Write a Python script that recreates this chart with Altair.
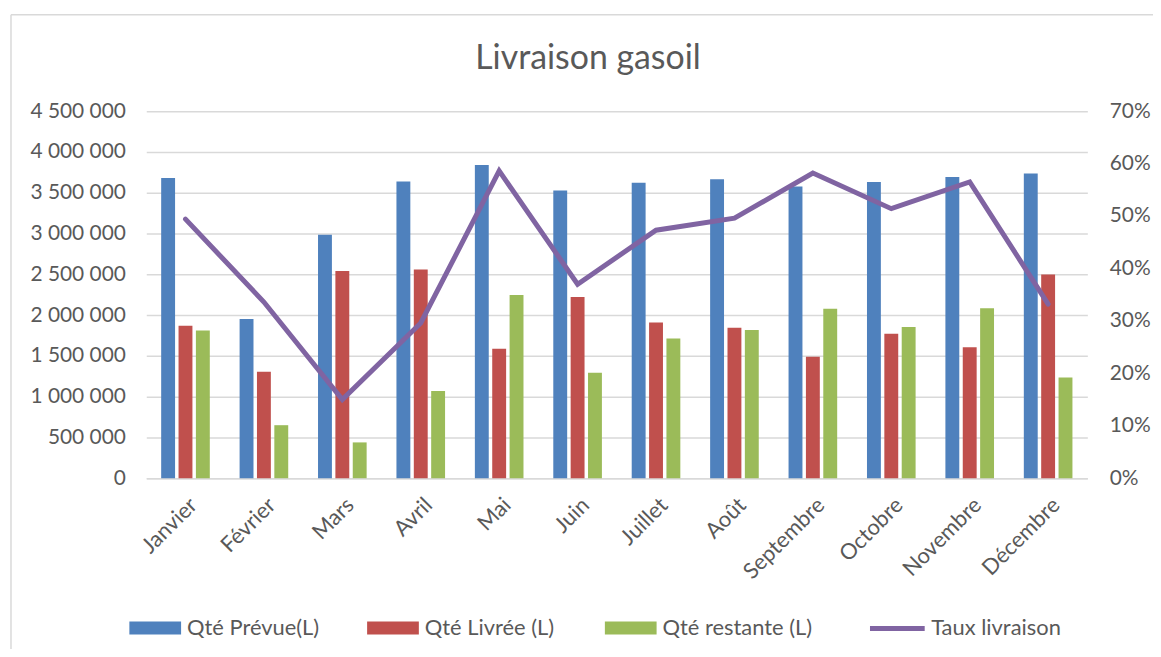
import altair as alt
import pandas as pd

mois = ["Janvier", "Février", "Mars", "Avril", "Mai", "Juin", "Juillet",
        "Août", "Septembre", "Octobre", "Novembre", "Décembre"]
series = ["Qté Prévue(L)", "Qté Livrée (L)", "Qté restante (L)"]
prevue = [3680000, 1953000, 2986000, 3636000, 3839000, 3526000, 3623000,
          3664000, 3575000, 3632000, 3693000, 3737000]
livree = [1868000, 1304000, 2539000, 2560000, 1588000, 2222000, 1909000,
          1844000, 1490000, 1771000, 1604000, 2498000]
restante = [1810000, 650000, 439000, 1068000, 2246000, 1292000, 1714000,
            1816000, 2076000, 1853000, 2084000, 1235000]
taux = [0.494, 0.336, 0.150, 0.296, 0.586, 0.370, 0.473, 0.496, 0.582,
        0.514, 0.565, 0.332]
couleurs = ["#4F81BD", "#C0504D", "#9BBB59"]
couleur_taux = "#8064A2"
titre = "Livraison gasoil"

rows = []
for s, vals in zip(series, [prevue, livree, restante]):
    for m, v in zip(mois, vals):
        rows.append({"mois": m, "serie": s, "valeur": v})
df_bars = pd.DataFrame(rows)
df_taux = pd.DataFrame({"mois": mois, "taux": taux, "serie": ["Taux livraison"] * len(mois)})

FONT = "Lato"
GREY = "#595959"
GRID = "#D9D9D9"

xenc = alt.X("mois:N", sort=mois,
             scale=alt.Scale(paddingInner=0.38, paddingOuter=0.19),
             axis=alt.Axis(title=None, labelAngle=-45, labelFontSize=22, labelFont=FONT,
                           labelColor=GREY, ticks=False, domain=True, domainColor=GRID,
                           domainWidth=1.5, labelPadding=16, labelOffset=1, grid=False))

bars = alt.Chart(df_bars).mark_bar().encode(
    x=xenc,
    xOffset=alt.XOffset("serie:N", sort=series, scale=alt.Scale(paddingInner=0.2)),
    y=alt.Y("valeur:Q", scale=alt.Scale(domain=[0, 4500000]),
            axis=alt.Axis(title=None, values=list(range(0, 4500001, 500000)),
                          labelExpr="replace(replace(format(datum.value, ','), ',', ' '), ',', ' ')",
                          labelFontSize=21, labelFont=FONT, labelColor=GREY, ticks=False,
                          domain=False, grid=True, gridColor=GRID, gridWidth=1.5,
                          labelPadding=21)),
    color=alt.Color("serie:N", scale=alt.Scale(domain=series, range=couleurs),
                    legend=alt.Legend(title=None, orient="none", legendX=-17, legendY=493.5,
                                      direction="horizontal", columns=3, gridAlign="all",
                                      columnPadding=30, padding=0,
                                      symbolType="M-1,-0.25H1V0.25H-1Z", symbolSize=2704,
                                      symbolStrokeWidth=0, symbolOpacity=1,
                                      labelFontSize=22, labelFont=FONT, labelColor=GREY,
                                      labelOffset=6, labelLimit=300)),
)

line = alt.Chart(df_taux).mark_line(strokeWidth=5, strokeCap="round").encode(
    x=alt.X("mois:N", sort=mois),
    y=alt.Y("taux:Q", scale=alt.Scale(domain=[0, 0.7]),
            axis=alt.Axis(title=None, orient="right", format=".0%",
                          values=[0, 0.1, 0.2, 0.3, 0.4, 0.5, 0.6, 0.7],
                          labelFontSize=21, labelFont=FONT, labelColor=GREY, ticks=False,
                          domain=False, grid=False, labelPadding=22)),
    stroke=alt.Stroke("serie:N", scale=alt.Scale(domain=["Taux livraison"], range=[couleur_taux]),
                      legend=alt.Legend(title=None, orient="none", legendX=725, legendY=490,
                                        padding=0, symbolType="stroke", symbolSize=3025,
                                        symbolStrokeWidth=5,
                                        labelFontSize=22, labelFont=FONT, labelColor=GREY,
                                        labelOffset=4, labelLimit=300)),
)

cadre = alt.Chart(pd.DataFrame({"b": [0]}))
bord_gauche = cadre.mark_rule(color=GRID, strokeWidth=1.5).encode(
    x=alt.value(-136), y=alt.value(-97), y2=alt.value(560))
bord_haut = cadre.mark_rule(color=GRID, strokeWidth=1.5).encode(
    x=alt.value(-136), x2=alt.value(1020), y=alt.value(-97))
texte_titre = cadre.mark_text(text=titre, font=FONT, fontSize=34, color=GREY,
                              align="center", baseline="alphabetic").encode(
    x=alt.value(444), y=alt.value(-42))

chart = alt.layer(bord_gauche, bord_haut, texte_titre, bars, line).resolve_scale(
    y="independent"
).properties(
    width=946, height=369,
    autosize=alt.AutoSizeParams(type="none"),
    padding={"left": 139, "top": 102, "right": 66, "bottom": 170},
).configure_view(stroke=None)

chart.save("out.html", embed_options={"renderer": "svg", "actions": False})
